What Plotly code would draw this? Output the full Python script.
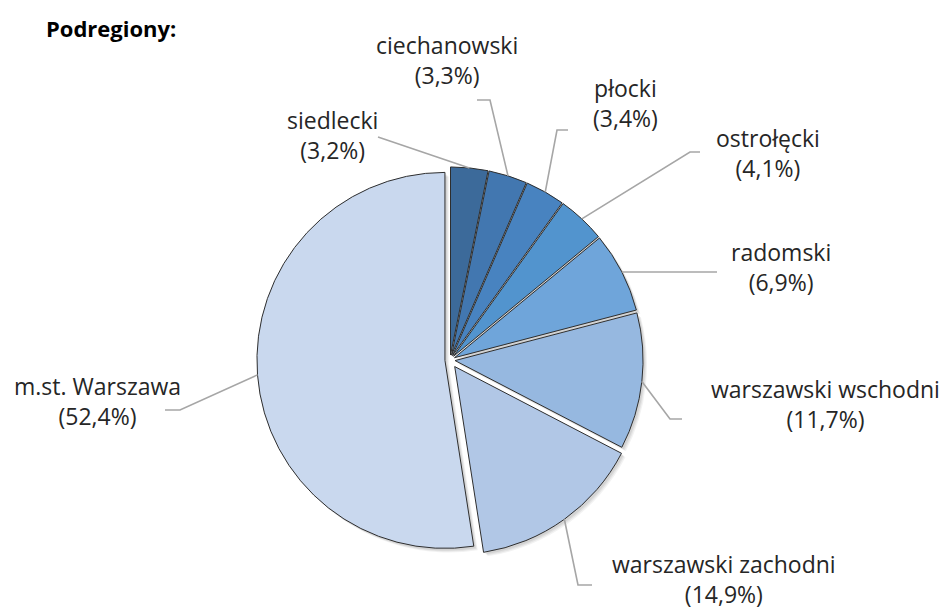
import math
import plotly.graph_objects as go

# ---- data ----
regions = ["siedlecki", "ciechanowski", "płocki", "ostrołęcki", "radomski",
           "warszawski wschodni", "warszawski zachodni", "m.st. Warszawa"]
shares = [3.2, 3.3, 3.4, 4.1, 6.9, 11.7, 14.9, 52.4]
share_labels = ["3,2%", "3,3%", "3,4%", "4,1%", "6,9%", "11,7%", "14,9%", "52,4%"]
colors = ["#3C6A9A", "#4277B0", "#4883C0", "#5294CE", "#6FA5DA",
          "#96B8E0", "#B1C7E6", "#C9D8EE"]
pulls = [0.027, 0.027, 0.027, 0.027, 0.027, 0.027, 0.043, 0.027]

# ---- layout geometry (pixels) ----
W, H = 944, 610
CX, CY = 450, 360          # pie centre
R = 188                    # pie radius
R0 = R * (1 + max(pulls))  # half size of domain

# label block centres and leader-line start/elbow points (pixels)
label_pos = [(332, 135), (447, 60), (625, 103), (768, 153), (781, 267),
             (825, 404), (724, 579), (97, 401)]
leader_start = [(378, 137), (477, 100), (568, 130), (700, 152), (717, 272),
                (682, 419), (592, 585), (165, 410)]
leader_elbow = [(378, 137), (490, 100), (557, 130), (690, 152), (705, 272),
                (670, 419), (578, 585), (180, 410)]


def px(x):
    return x / W


def py(y):
    return 1 - y / H


def pie_domain(dx=0.0, dy=0.0):
    return dict(x=[px(CX + dx) - 0.3, px(CX + dx) + 0.3],
                y=[py(CY + dy) - R0 / H, py(CY + dy) + R0 / H])


fig = go.Figure()

# soft shadow layers
for off, alpha in [(4, 0.05), (3, 0.06), (2, 0.07)]:
    fig.add_trace(go.Pie(
        labels=regions, values=shares, sort=False, direction="clockwise",
        rotation=0, pull=pulls,
        marker=dict(colors=[f"rgba(0,0,0,{alpha})"] * len(shares),
                    line=dict(width=0)),
        textinfo="none", hoverinfo="skip", showlegend=False,
        domain=pie_domain(off, off),
    ))

fig.add_trace(go.Pie(
    labels=regions,
    values=shares,
    sort=False,
    direction="clockwise",
    rotation=0,
    pull=pulls,
    marker=dict(colors=colors, line=dict(color="#2E2E2E", width=1)),
    textinfo="none",
    hoverinfo="label+percent",
    showlegend=False,
    domain=pie_domain(),
))

total = sum(shares)
cum = 0.0
shapes = []
annotations = []
for i, (name, v) in enumerate(zip(regions, shares)):
    mid = (cum + v / 2) / total * 2 * math.pi
    cum += v
    dist = R * (1 + pulls[i])
    ex = CX + dist * math.sin(mid)
    ey = CY - dist * math.cos(mid)
    sx, sy = leader_start[i]
    bx, by = leader_elbow[i]
    path = f"M {px(sx)} {py(sy)} L {px(bx)} {py(by)} L {px(ex)} {py(ey)}"
    shapes.append(dict(type="path", path=path, xref="paper", yref="paper",
                       line=dict(color="#A6A6A6", width=1.6)))
    lx, ly = label_pos[i]
    annotations.append(dict(
        x=px(lx), y=py(ly), xref="paper", yref="paper",
        text=f"{name}<br>({share_labels[i]})", showarrow=False,
        xanchor="center", yanchor="middle", align="center",
        font=dict(family="Open Sans", size=23, color="#262626"),
    ))

annotations.append(dict(
    x=px(44), y=py(28), xref="paper", yref="paper",
    text="<b>Podregiony:</b>", showarrow=False,
    xanchor="left", yanchor="middle",
    font=dict(family="Open Sans", size=22, color="#000000"),
))

fig.update_layout(
    width=W, height=H,
    margin=dict(l=0, r=0, t=0, b=0),
    paper_bgcolor="white",
    plot_bgcolor="white",
    shapes=shapes,
    annotations=annotations,
)

fig.write_html("out.html",
               config={"displayModeBar": False},
               post_script="document.body.style.margin='0';"
                           "document.body.style.overflow='hidden';")
